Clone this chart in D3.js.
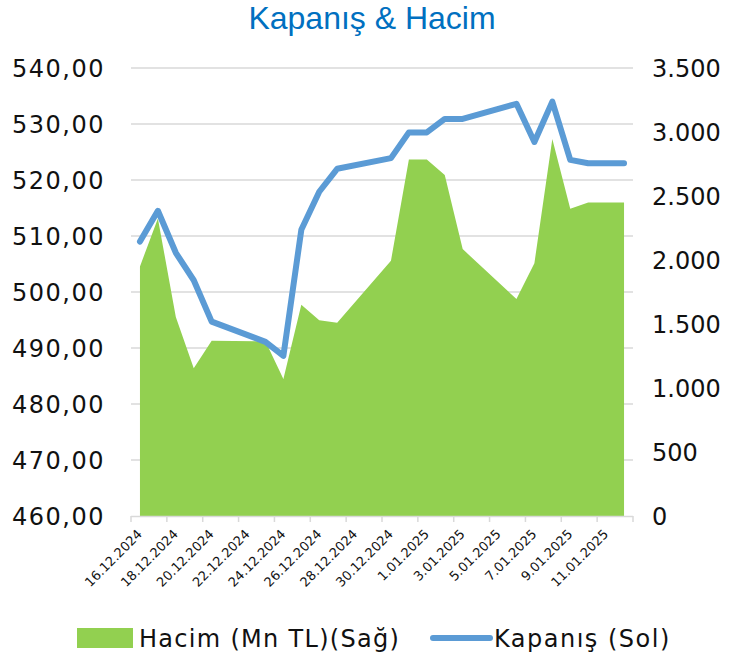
<!DOCTYPE html>
<html>
<head>
<meta charset="utf-8">
<script src="https://cdn.jsdelivr.net/npm/d3@7"></script>
<style>
  body { margin: 0; background: #fff; }
  svg { display: block; }
</style>
</head>
<body>
<svg width="735" height="659"></svg>
<script>
// values
const dates = ["16.12.2024", "17.12.2024", "18.12.2024", "19.12.2024", "20.12.2024",
  "23.12.2024", "24.12.2024", "25.12.2024", "26.12.2024", "27.12.2024",
  "30.12.2024", "31.12.2024", "1.01.2025", "2.01.2025", "3.01.2025",
  "6.01.2025", "7.01.2025", "8.01.2025", "9.01.2025", "10.01.2025", "12.01.2025"]
const kapanis = [509.0, 514.5, 507.0, 502.1, 494.7,
  491.1, 488.6, 511.1, 517.9, 522.0,
  523.9, 528.5, 528.5, 530.9, 530.9,
  533.6, 526.8, 534.0, 523.6, 523.0, 523.0]
const hacim = [1950, 2325, 1555, 1155, 1370,
  1365, 1070, 1650, 1530, 1510,
  1995, 2785, 2785, 2665, 2085,
  1695, 1975, 2945, 2400, 2450, 2450]
const leftTicks = [460, 470, 480, 490, 500, 510, 520, 530, 540]
const rightTicks = [0, 500, 1000, 1500, 2000, 2500, 3000, 3500]

const svg = d3.select("svg")
const parse = d3.timeParse("%d.%m.%Y")
const data = dates.map((d, i) => ({ date: parse(d), close: kapanis[i], vol: hacim[i] }))

const tr = d3.formatLocale({ decimal: ",", thousands: ".", grouping: [3], currency: ["", " TL"] })
const fmtLeft = tr.format(",.2f")
const fmtRight = tr.format(",.0f")
const fmtDate = d3.timeFormat("%-d.%m.%Y")

const DAY = 864e5
const first = data[0].date, last = data[data.length - 1].date
const xScale = d3.scaleTime()
  .domain([new Date(+first - DAY / 2), new Date(+last + DAY / 2)])
  .range([131, 633])
const yLeft = d3.scaleLinear().domain([460, 540]).range([516, 68])
const yRight = d3.scaleLinear().domain([0, 3500]).range([516, 68])

const font = "'DejaVu Sans', sans-serif"

// title
svg.append("text")
  .attr("x", 372).attr("y", 29)
  .attr("text-anchor", "middle")
  .style("font-family", "'Liberation Sans', Arial, sans-serif")
  .style("font-size", "32px")
  .attr("fill", "#0070C0")
  .text("Kapanış & Hacim")

// grid
svg.append("g").selectAll("line").data(leftTicks.slice(1)).join("line")
  .attr("x1", 131).attr("x2", 633)
  .attr("y1", d => yLeft(d)).attr("y2", d => yLeft(d))
  .attr("stroke", "#d9d9d9").attr("stroke-width", 1.5)

// area (right axis)
const area = d3.area()
  .x(d => xScale(d.date))
  .y0(yRight(0))
  .y1(d => yRight(d.vol))
svg.append("path").datum(data).attr("d", area).attr("fill", "#92D050")

// x axis line and tick marks
svg.append("line").attr("x1", 131).attr("x2", 633).attr("y1", 516.5).attr("y2", 516.5)
  .attr("stroke", "#d9d9d9").attr("stroke-width", 1.5)
const tickDates = d3.timeDay.range(first, new Date(+last + DAY), 2)
const bounds = tickDates.map(d => new Date(+d - DAY / 2)).concat([new Date(+last + DAY / 2)])
svg.append("g").selectAll("line").data(bounds).join("line")
  .attr("x1", d => xScale(d)).attr("x2", d => xScale(d))
  .attr("y1", 516).attr("y2", 522)
  .attr("stroke", "#d9d9d9").attr("stroke-width", 1.5)

svg.append("g").selectAll("text").data(tickDates).join("text")
  .attr("transform", d => `translate(${xScale(d) + 3},${535}) rotate(-45)`)
  .attr("text-anchor", "end")
  .style("font-family", font).style("font-size", "13px")
  .attr("fill", "#111")
  .text(d => fmtDate(d))

// line (left axis)
const line = d3.line()
  .x(d => xScale(d.date))
  .y(d => yLeft(d.close))
svg.append("path").datum(data).attr("d", line)
  .attr("fill", "none").attr("stroke", "#5B9BD5")
  .attr("stroke-width", 6).attr("stroke-linejoin", "round").attr("stroke-linecap", "round")

// y labels
svg.append("g").selectAll("text").data(leftTicks).join("text")
  .attr("x", 105).attr("y", d => yLeft(d)).attr("dy", "0.36em")
  .attr("text-anchor", "end")
  .style("font-family", font).style("font-size", "24px")
  .style("letter-spacing", "1.5px")
  .attr("fill", "#111")
  .text(d => fmtLeft(d))
svg.append("g").selectAll("text").data(rightTicks).join("text")
  .attr("x", 652).attr("y", d => yRight(d)).attr("dy", "0.36em")
  .style("font-family", font).style("font-size", "24px")
  .attr("fill", "#111")
  .text(d => fmtRight(d))

// legend
const lg = svg.append("g")
lg.append("rect").attr("x", 77).attr("y", 628).attr("width", 56).attr("height", 20).attr("fill", "#92D050")
lg.append("text").attr("x", 139).attr("y", 638).attr("dy", "0.36em")
  .style("font-family", font).style("font-size", "24px")
  .style("letter-spacing", "1.3px")
  .attr("fill", "#111")
  .text("Hacim (Mn TL)(Sağ)")
lg.append("line").attr("x1", 433).attr("x2", 490).attr("y1", 638).attr("y2", 638)
  .attr("stroke", "#5B9BD5").attr("stroke-width", 6).attr("stroke-linecap", "round")
lg.append("text").attr("x", 494).attr("y", 638).attr("dy", "0.36em")
  .style("font-family", font).style("font-size", "24px")
  .style("letter-spacing", "1.5px")
  .attr("fill", "#111")
  .text("Kapanış (Sol)")
</script>
</body>
</html>
